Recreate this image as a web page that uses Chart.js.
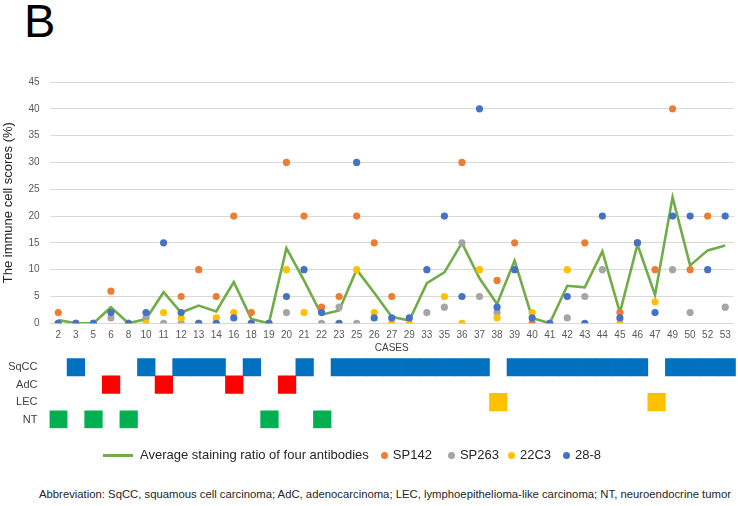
<html lang="en">
<head>
  <meta charset="UTF-8" />
  <title>Immune cell scores</title>
  <script src="https://cdn.jsdelivr.net/npm/chart.js"></script>
  <style>
    body {
      margin: 0;
      background: #ffffff;
      font-family: "Liberation Sans", Arial, sans-serif;
    }

    #wrap {
      position: relative;
      width: 738px;
      height: 506px;
      overflow: hidden;
    }

    canvas {
      position: absolute;
      left: 0;
    }

    #panel {
      position: absolute;
      left: 24px;
      top: -3px;
      font-size: 47px;
      line-height: 1;
      color: #000;
    }

    #legend {
      position: absolute;
      left: 103px;
      top: 447px;
      display: flex;
      align-items: center;
      font-size: 13px;
      line-height: 16px;
      color: #262626;
      white-space: nowrap;
    }

    .swatch-line {
      width: 30px;
      height: 3px;
      margin-right: 7px;
    }

    .swatch-dot {
      width: 7px;
      height: 7px;
      border-radius: 50%;
      margin-left: 12px;
      margin-right: 5px;
    }

    #legend .d2 { margin-left: 16px; }
    #legend .d3 { margin-left: 9px; }
    #legend .d4 { margin-left: 12px; }

    #abbr {
      position: absolute;
      left: 0;
      width: 770px;
      top: 488px;
      text-align: center;
      font-size: 11.3px;
      color: #262626;
      white-space: nowrap;
    }
  </style>
</head>
<body>
  <div id="wrap">
    <div id="panel">B</div>
    <canvas id="scores" width="738" height="370" style="top:0"></canvas>
    <canvas id="types" width="738" height="90" style="top:350px"></canvas>
    <div id="legend"></div>
    <div id="abbr">Abbreviation: SqCC, squamous cell carcinoma; AdC, adenocarcinoma; LEC, lymphoepithelioma-like carcinoma; NT, neuroendocrine tumor</div>
  </div>

  <script>
    // cases on the x axis
    const cases = ['2','3','5','6','8','10','11','12','13','14','16','18','19','20','21','22','23','25','26','27',
                   '29','33','35','36','37','38','39','40','41','42','43','44','45','46','47','49','50','52','53'];

    // average of the four antibodies (green line)
    const average = [0.6,0,0,3,0,0.8,5.8,2,3.3,2.2,7.7,0.8,0,14,8,1.6,2.4,10,5.7,1.2,
                     0.5,7.5,9.5,15,8.4,3.6,11.7,1,0,7,6.7,13.4,2,14.7,5.3,23.5,10.8,13.6,14.5];

    // per antibody scores (null = not visible in the figure)
    const sp142 = [2,0,0,6,0,null,null,5,10,5,20,2,0,30,20,3,5,20,15,5,
                   null,null,null,30,null,8,15,0,0,null,15,null,2,15,10,40,10,20,null];
    const sp263 = [0,0,0,1,0,1,0,0,0,0,null,0,0,2,null,0,3,0,null,null,
                   null,2,3,15,5,2,null,null,0,1,5,10,null,15,null,10,2,null,3];
    const c22c3 = [0,0,0,null,0,0,2,1,0,1,2,0,0,10,2,null,0,10,2,0,
                   0,null,5,0,10,1,null,2,0,10,null,null,0,15,4,null,null,null,null];
    const c288 = [0,0,0,2,0,2,15,2,0,0,1,0,0,5,10,2,0,30,1,1,
                  1,10,20,5,40,3,10,1,0,5,0,20,1,15,2,20,20,10,20];

    const yTicks = [0,5,10,15,20,25,30,35,40,45];

    // histological type of each case
    const typeNames = ['SqCC','AdC','LEC','NT'];
    const caseTypes = ['NT','SqCC','NT','AdC','NT','SqCC','AdC','SqCC','SqCC','SqCC','AdC','SqCC','NT','AdC','SqCC','NT',
                       'SqCC','SqCC','SqCC','SqCC','SqCC','SqCC','SqCC','SqCC','SqCC','LEC',
                       'SqCC','SqCC','SqCC','SqCC','SqCC','SqCC','SqCC','SqCC','LEC','SqCC','SqCC','SqCC','SqCC'];
    const typeColors = ['#0070C0','#FF0000','#FFC000','#00B050'];

    const seriesNames = ['Average staining ratio of four antibodies','SP142','SP263','22C3','28-8'];
    const seriesColors = ['#70AD47','#ED7D31','#A5A5A5','#FFC000','#4472C4'];

    const tickFont = { family: '"Liberation Sans", Arial, sans-serif', size: 10 };

    function dots(data, idx, order) {
      return {
        label: seriesNames[idx],
        data: data,
        showLine: false,
        pointRadius: 3.6,
        pointBorderWidth: 0,
        pointBackgroundColor: seriesColors[idx],
        backgroundColor: seriesColors[idx],
        borderColor: seriesColors[idx],
        order: order
      };
    }

    new Chart(document.getElementById('scores').getContext('2d'), {
      type: 'line',
      data: {
        labels: cases,
        datasets: [
          {
            label: seriesNames[0],
            data: average,
            borderColor: seriesColors[0],
            borderWidth: 2.6,
            pointRadius: 0,
            tension: 0,
            order: 5
          },
          dots(sp142, 1, 4),
          dots(sp263, 2, 3),
          dots(c22c3, 3, 2),
          dots(c288, 4, 1)
        ]
      },
      options: {
        responsive: false,
        animation: false,
        layout: { padding: { top: 82, right: 2.2, bottom: 10, left: 0 } },
        plugins: { legend: { display: false }, tooltip: { enabled: false } },
        scales: {
          x: {
            offset: true,
            grid: { display: false, drawTicks: false },
            border: { display: false },
            ticks: { color: '#595959', font: tickFont, maxRotation: 0, autoSkip: false, padding: 6 },
            title: {
              display: true, text: 'CASES', color: '#404040',
              font: tickFont, padding: { top: 0, bottom: 6 }
            },
            afterFit: s => { s.height = 36.7; }
          },
          y: {
            min: 0,
            max: 45,
            afterBuildTicks: s => { s.ticks = yTicks.map(v => ({ value: v })); },
            grid: { color: '#D9D9D9', lineWidth: 1, drawTicks: false },
            border: { display: false },
            ticks: { color: '#595959', font: tickFont, padding: 10 },
            title: {
              display: true, text: 'The immune cell scores (%)', color: '#262626',
              font: { family: '"Liberation Sans", Arial, sans-serif', size: 13 },
              padding: { top: 1, bottom: 0 }
            },
            afterFit: s => { s.width = 49.5; }
          }
        }
      }
    });

    // type rows under the axis
    new Chart(document.getElementById('types').getContext('2d'), {
      type: 'bar',
      data: {
        labels: cases,
        datasets: typeNames.map((t, i) => ({
          label: t,
          data: caseTypes.map(ct => ct === t ? [i, i + 1] : null),
          backgroundColor: typeColors[i],
          borderWidth: 0,
          barPercentage: 1,
          categoryPercentage: 1,
          grouped: false
        }))
      },
      options: {
        responsive: false,
        animation: false,
        layout: { padding: { top: 8.3, right: 2.2, bottom: 11.7, left: 0 } },
        plugins: { legend: { display: false }, tooltip: { enabled: false } },
        scales: {
          x: { display: false, offset: true },
          y: {
            min: 0,
            max: 4,
            reverse: true,
            offset: false,
            afterBuildTicks: s => { s.ticks = typeNames.map((n, i) => ({ value: i + 0.5 })); },
            // tick marks hidden; their length only pushes the labels left
            grid: { display: false, drawTicks: true, tickLength: 12 },
            border: { display: false },
            ticks: {
              color: '#404040',
              font: { family: '"Liberation Sans", Arial, sans-serif', size: 11 },
              padding: 0,
              callback: v => typeNames[Math.floor(v)]
            },
            afterFit: s => { s.width = 49.5; }
          }
        }
      }
    });

    // legend
    const legend = document.getElementById('legend');
    seriesNames.forEach((name, i) => {
      const sw = document.createElement('span');
      sw.className = i === 0 ? 'swatch-line' : 'swatch-dot d' + i;
      sw.style.background = seriesColors[i];
      const tx = document.createElement('span');
      tx.textContent = name;
      legend.appendChild(sw);
      legend.appendChild(tx);
    });
  </script>
</body>
</html>
